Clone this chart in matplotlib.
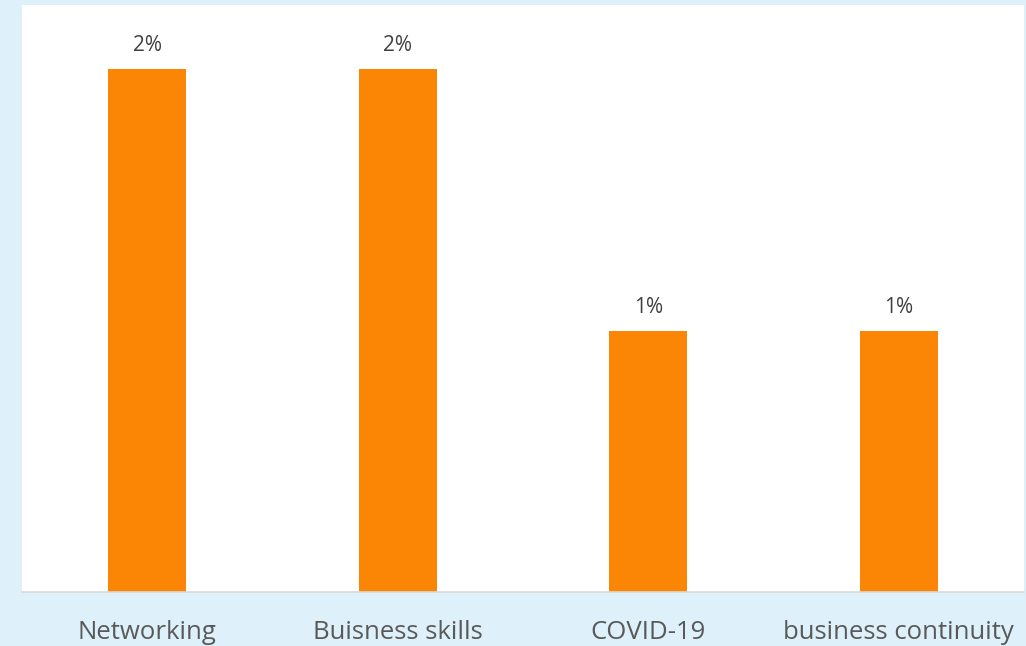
import matplotlib
matplotlib.use("Agg")
import matplotlib.pyplot as plt

categories = ["Networking", "Buisness skills", "COVID-19", "business continuity"]
values = [0.02, 0.02, 0.01, 0.01]
value_labels = ["2%", "2%", "1%", "1%"]

W, H = 1026, 646
fig = plt.figure(figsize=(W / 100, H / 100), dpi=100)
fig.patch.set_facecolor("#DEF1FA")

left, right, top, bottom = 22, 1024, 5, 592
ax = fig.add_axes([left / W, 1 - bottom / H, (right - left) / W, (bottom - top) / H])
ax.set_facecolor("white")

x = list(range(len(categories)))
bars = ax.bar(x, values, width=0.31, color="#FB8504", edgecolor="none")
ax.set_xlim(-0.5, len(categories) - 0.5)
ax.set_ylim(0, 0.02 * 586 / 522)

for xi, v, lab in zip(x, values, value_labels):
    ax.annotate(lab, (xi, v), xytext=(0, 18), textcoords="offset pixels",
                ha="center", va="baseline", fontsize=15, color="#404040",
                family=["Open Sans", "DejaVu Sans"])

for s in ["top", "right", "left"]:
    ax.spines[s].set_visible(False)
ax.spines["bottom"].set_color("#D9D9D9")
ax.spines["bottom"].set_linewidth(1.2)
ax.set_yticks([])
ax.set_xticks(x)
ax.set_xticklabels(categories, fontsize=18.5, color="#595959", family=["Open Sans", "DejaVu Sans"])
for t in ax.get_xticklabels():
    t.set_va("baseline")
ax.tick_params(axis="x", length=0, pad=47 * 72 / 100)

fig.savefig("out.png", dpi=100, facecolor=fig.get_facecolor())
